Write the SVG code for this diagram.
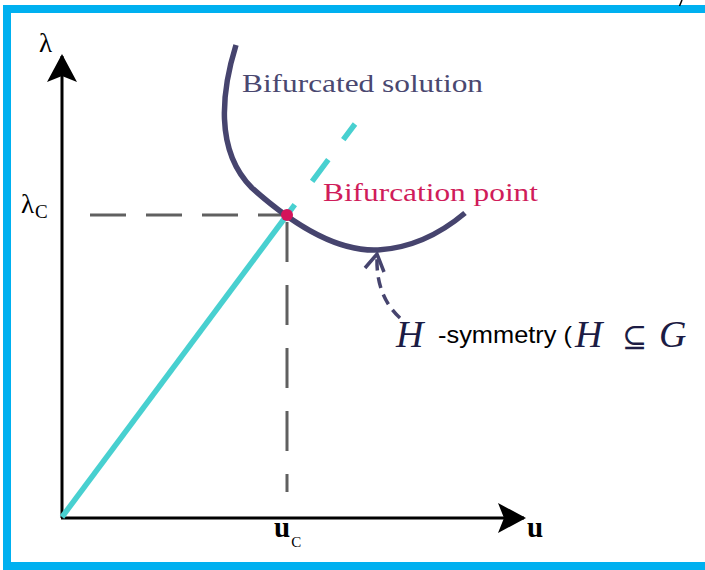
<svg xmlns="http://www.w3.org/2000/svg" width="705" height="570" viewBox="0 0 705 570">
<defs>
<style>
.frame{fill:#00b0f0}
.axis{stroke:#000;stroke-width:3;fill:none}
.guide{stroke:#606060;stroke-width:3;fill:none;stroke-dasharray:36 20}
.trivial{stroke:#48d0d0;stroke-width:5.5;fill:none}
.branch{stroke:#46446e;stroke-width:5.5;fill:none;stroke-linecap:butt}
.serif{font-family:"Liberation Serif","DejaVu Serif",serif}
.math{font-family:"Liberation Serif","DejaVu Serif",serif;font-style:italic;fill:#1c1c44}
</style>
<marker id="stealth" viewBox="0 0 30 30" refX="26" refY="15" markerWidth="30" markerHeight="30" markerUnits="userSpaceOnUse" orient="auto">
<path d="M0,0 L28,15 L0,30 L6,15 Z" fill="#000"/>
</marker>
</defs>
<g id="frame">
<rect class="frame" x="3" y="5" width="702" height="8"/>
<rect class="frame" x="3" y="5" width="8" height="565"/>
<rect class="frame" x="3" y="562" width="702" height="8"/>
<path d="M682,0 L679.5,6" stroke="#000" stroke-width="1.5"/>
</g>
<g id="connectors">
<path class="axis" d="M62,518 V56" marker-end="url(#stealth)"/>
<path class="axis" d="M61,518 H524" marker-end="url(#stealth)"/>
<path class="guide" d="M90,215 H287"/>
<path class="guide" d="M287,222 V492" style="stroke-dasharray:40 23"/>
<path class="trivial" d="M62,517 L287,215"/>
<path class="trivial" d="M287,215 L355,124" style="stroke-dasharray:13 29 27 25 20 10"/>
<path d="M400,318 Q376,296 377,258" fill="none" stroke="#46446e" stroke-width="3.5" stroke-dasharray="11 7"/>
<path d="M365,268 L377,254 L384,272" fill="none" stroke="#46446e" stroke-width="3.5" stroke-linejoin="miter"/>
</g>
<g id="bifurcated-branch">
<path class="branch" d="M236,45 C222,90 214,150 252,188 C290,222 335,252 378,250 C412,248 440,234 465,213"/>
<text class="serif" x="242" y="92" font-size="26" fill="#4a4870" textLength="241" lengthAdjust="spacingAndGlyphs">Bifurcated solution</text>
</g>
<g id="bifurcation-point">
<circle cx="287" cy="215" r="6" fill="#d4145a"/>
<text class="serif" x="323" y="201" font-size="26" fill="#d01c5a" textLength="215" lengthAdjust="spacingAndGlyphs">Bifurcation point</text>
</g>
<g id="axis-labels">
<text class="serif" x="39" y="52" font-size="27">λ</text>
<text class="serif" x="21" y="213" font-size="27">λ<tspan font-size="19" dx="1" dy="5">C</tspan></text>
<text class="serif" x="274" y="537" font-size="29" font-weight="bold">u<tspan font-size="15" font-weight="normal" dy="10" dx="1">C</tspan></text>
<text class="serif" x="527" y="537" font-size="29" font-weight="bold">u</text>
</g>
<g id="symmetry-label">
<text class="math" x="396" y="347" font-size="38">H</text>
<text x="438" y="343" font-size="24" font-family="'Liberation Sans','Open Sans',sans-serif" fill="#000" textLength="134" lengthAdjust="spacingAndGlyphs">-symmetry (</text>
<text class="math" x="575" y="347" font-size="38">H</text>
<text x="622" y="347" font-size="30" font-family="'DejaVu Serif',serif" fill="#1c1c44">⊆</text>
<text class="math" x="659" y="347" font-size="38">G</text>
</g>
</svg>
